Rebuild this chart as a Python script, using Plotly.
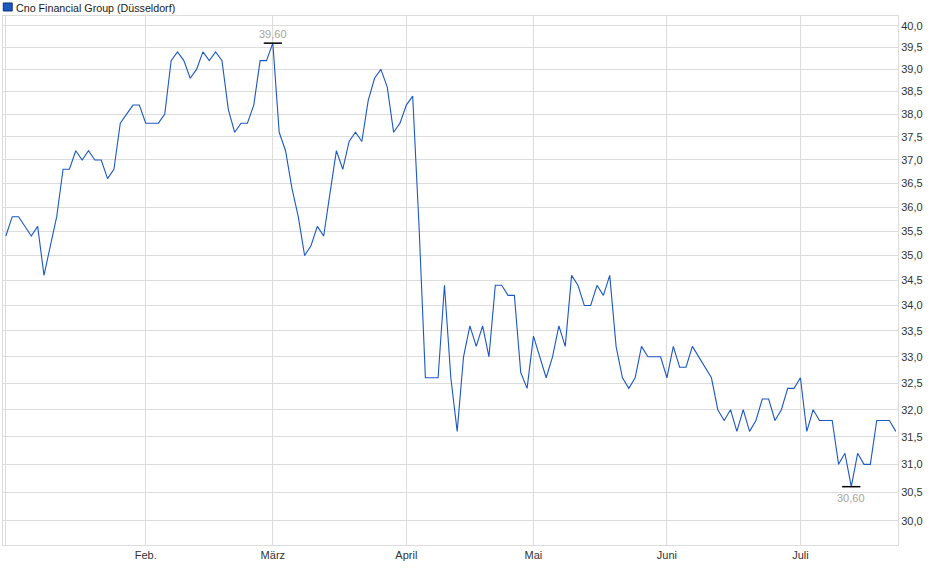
import math
import pandas as pd
import plotly.graph_objects as go

# trading days at the Düsseldorf exchange, Jan 2 - Jul 22 2025
start_date = "2025-01-02"
end_date = "2025-07-22"
exchange_holidays = ["2025-04-18", "2025-04-21", "2025-05-01"]
dates = pd.bdate_range(start_date, end_date, freq="C",
                       holidays=exchange_holidays).strftime("%Y-%m-%d").tolist()

# closing prices in EUR
prices = [
    35.4, 35.8, 35.8, 35.6, 35.4, 35.6, 34.6, 35.2, 35.8, 36.8,
    36.8, 37.2, 37.0, 37.2, 37.0, 37.0, 36.6, 36.8, 37.8, 38.0,
    38.2, 38.2, 37.8, 37.8, 37.8, 38.0, 39.2, 39.4, 39.2, 38.8,
    39.0, 39.4, 39.2, 39.4, 39.2, 38.1, 37.6, 37.8, 37.8, 38.2,
    39.2, 39.2, 39.6, 37.6, 37.2, 36.4, 35.8, 35.0, 35.2, 35.6,
    35.4, 36.3, 37.2, 36.8, 37.4, 37.6, 37.4, 38.3, 38.8, 39.0,
    38.6, 37.6, 37.8, 38.2, 38.4, 35.6, 32.6, 32.6, 32.6, 34.4,
    32.6, 31.6, 33.0, 33.6, 33.2, 33.6, 33.0, 34.4, 34.4, 34.2,
    34.2, 32.7, 32.4, 33.4, 33.0, 32.6, 33.0, 33.6, 33.2, 34.6,
    34.4, 34.0, 34.0, 34.4, 34.2, 34.6, 33.2, 32.6, 32.4, 32.6,
    33.2, 33.0, 33.0, 33.0, 32.6, 33.2, 32.8, 32.8, 33.2, 33.0,
    32.8, 32.6, 32.0, 31.8, 32.0, 31.6, 32.0, 31.6, 31.8, 32.2,
    32.2, 31.8, 32.0, 32.4, 32.4, 32.6, 31.6, 32.0, 31.8, 31.8,
    31.8, 31.0, 31.2, 30.6, 31.2, 31.0, 31.0, 31.8, 31.8, 31.8,
    31.6,
]

month_labels = ["", "Feb.", "März", "April", "Mai", "Juni", "Juli"]
y_ticks = [30.0, 30.5, 31.0, 31.5, 32.0, 32.5, 33.0, 33.5, 34.0, 34.5,
           35.0, 35.5, 36.0, 36.5, 37.0, 37.5, 38.0, 38.5, 39.0, 39.5, 40.0]

series_name = "Cno Financial Group (Düsseldorf)"
line_color = "#1c58c2"
grid_color = "#dcdcdc"

# first trading day of each month gets a gridline / label
month_ticks = [d for k, d in enumerate(dates) if k == 0 or d[:7] != dates[k - 1][:7]]

i_max = prices.index(max(prices))
i_min = prices.index(min(prices))

fig = go.Figure()

fig.add_trace(go.Scatter(x=dates, y=prices, mode="lines", name=series_name,
                         line=dict(color=line_color, width=1.1), showlegend=False))

# high / low markers
fig.add_trace(go.Scatter(x=[dates[i_max], dates[i_min]],
                         y=[prices[i_max], prices[i_min]],
                         mode="markers", showlegend=False, hoverinfo="skip",
                         marker=dict(symbol="line-ew", size=13,
                                     line=dict(width=1.5, color="black"))))

def fmt(v):
    return f"{v:.2f}".replace(".", ",")

annotations = [
    dict(x=dates[i_max], y=math.log10(prices[i_max]), text=fmt(prices[i_max]),
         showarrow=False, yshift=9, font=dict(size=11, color="#a8a39c")),
    dict(x=dates[i_min], y=math.log10(prices[i_min]), text=fmt(prices[i_min]),
         showarrow=False, yshift=-11, font=dict(size=11, color="#a8a39c")),
    # legend label
    dict(xref="paper", yref="paper", x=0.0122, y=1.0155, xanchor="left",
         yanchor="middle", text=series_name, showarrow=False,
         font=dict(size=10.7, color="#1a1a1a")),
]

shapes = [
    dict(type="rect", xref="paper", yref="paper", x0=0.0003, x1=0.0103,
         y0=1.0095, y1=1.0246, fillcolor=line_color,
         line=dict(color="#0d2f70", width=1)),
]

fig.update_layout(
    width=940,
    height=579,
    margin=dict(l=3, r=42, t=16, b=34),
    plot_bgcolor="white",
    paper_bgcolor="white",
    separators=",.",
    font=dict(family="Liberation Sans, Arial, sans-serif", size=11, color="#333333"),
    xaxis=dict(
        type="category",
        range=[-0.45, len(dates) - 0.65],
        tickvals=month_ticks,
        ticktext=month_labels,
        showgrid=True,
        gridcolor=grid_color,
        showline=True,
        mirror=True,
        linecolor=grid_color,
        ticks="",
        zeroline=False,
    ),
    yaxis=dict(
        type="log",
        side="right",
        range=[math.log10(29.58), math.log10(40.23)],
        tickvals=y_ticks,
        tickformat=".1f",
        showgrid=True,
        gridcolor=grid_color,
        showline=True,
        mirror=True,
        linecolor=grid_color,
        ticks="",
        zeroline=False,
    ),
    annotations=annotations,
    shapes=shapes,
    showlegend=False,
)

# page body has an 8px default margin; drop it so the figure sits at 0,0
fig.write_html("out.html", config={"displayModeBar": False},
               post_script="document.body.style.margin='0px';")
